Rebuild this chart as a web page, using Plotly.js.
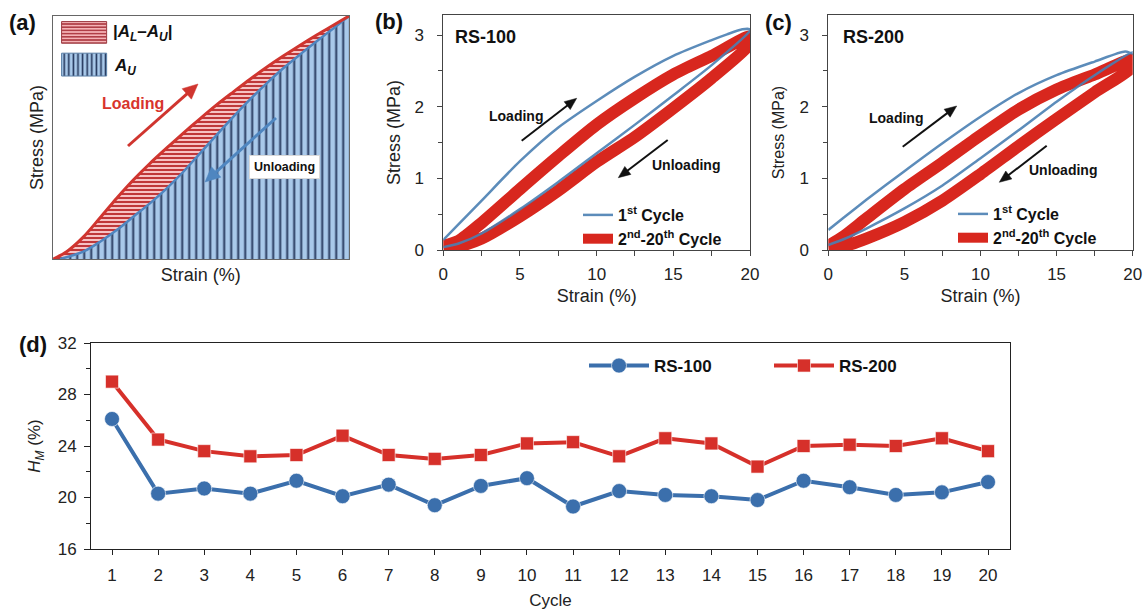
<!DOCTYPE html>
<html>
<head>
<meta charset="utf-8">
<script src="https://cdn.plot.ly/plotly-3.0.1.min.js"></script>
<style>
  html, body { margin: 0; padding: 0; background: #fff; }
  #fig { width: 1146px; height: 610px; }
</style>
</head>
<body>
<div id="fig"></div>
<script>
// ---------- (a) schematic loop (normalised strain / stress) ----------
const schemLoadStrain   = [0.002, 0.047, 0.103, 0.160, 0.216, 0.272, 0.328, 0.385, 0.441, 0.497, 0.553, 0.610, 0.666, 0.722, 0.778, 0.835, 0.891, 0.947, 1.0];
const schemLoadStress   = [0.000, 0.030, 0.090, 0.170, 0.250, 0.325, 0.393, 0.457, 0.518, 0.577, 0.634, 0.688, 0.740, 0.789, 0.835, 0.880, 0.922, 0.962, 1.0];
const schemUnloadStrain = [0.025, 0.103, 0.160, 0.216, 0.272, 0.328, 0.385, 0.441, 0.497, 0.553, 0.610, 0.666, 0.722, 0.778, 0.835, 0.891, 0.947, 1.0];
const schemUnloadStress = [0.000, 0.030, 0.071, 0.119, 0.174, 0.229, 0.291, 0.359, 0.435, 0.510, 0.586, 0.657, 0.723, 0.785, 0.842, 0.896, 0.949, 1.0];

// ---------- (b) RS-100 stress-strain loops ----------
const rs100FirstLoadStrain    = [0, 1, 2.5, 5, 7.5, 10, 12.5, 15, 17.5, 18.5, 19.5, 20];
const rs100FirstLoadStress    = [0.14, 0.36, 0.69, 1.24, 1.71, 2.08, 2.42, 2.71, 2.93, 3.01, 3.08, 3.08];
const rs100FirstUnloadStrain  = [20, 17.5, 15, 12.5, 10, 7.5, 5, 2.5, 1, 0];
const rs100FirstUnloadStress  = [3.06, 2.58, 2.16, 1.75, 1.35, 0.95, 0.57, 0.23, 0.09, 0.04];
const rs100CycLoadStrain      = [0, 1, 2.5, 5, 7.5, 10, 12.5, 15, 17.5, 20];
const rs100CycLoadStress      = [0.06, 0.13, 0.38, 0.85, 1.31, 1.75, 2.12, 2.45, 2.71, 2.98];
const rs100CycUnloadStrain    = [20, 17.5, 15, 12.5, 10, 7.5, 5, 2.5, 1, 0];
const rs100CycUnloadStress    = [2.88, 2.40, 1.98, 1.58, 1.23, 0.83, 0.47, 0.16, 0.05, 0.02];

// ---------- (c) RS-200 stress-strain loops ----------
const rs200FirstLoadStrain    = [0, 1, 2.5, 5, 7.5, 10, 12.5, 15, 17.5, 19.5, 20];
const rs200FirstLoadStress    = [0.28, 0.45, 0.70, 1.10, 1.49, 1.86, 2.19, 2.44, 2.63, 2.77, 2.74];
const rs200FirstUnloadStrain  = [20, 17.5, 15, 12.5, 10, 7.5, 5, 2.5, 1, 0];
const rs200FirstUnloadStress  = [2.76, 2.44, 2.07, 1.67, 1.28, 0.90, 0.58, 0.30, 0.15, 0.07];
const rs200CycLoadStrain      = [0, 1, 2.5, 5, 7.5, 10, 12.5, 15, 17.5, 20];
const rs200CycLoadStress      = [0.06, 0.19, 0.44, 0.85, 1.22, 1.60, 1.96, 2.24, 2.45, 2.66];
const rs200CycUnloadStrain    = [20, 17.5, 15, 12.5, 10, 7.5, 5, 2.5, 1, 0];
const rs200CycUnloadStress    = [2.56, 2.20, 1.83, 1.45, 1.06, 0.69, 0.39, 0.16, 0.05, 0.02];

// ---------- (d) hysteresis per cycle ----------
const cycles = [1, 2, 3, 4, 5, 6, 7, 8, 9, 10, 11, 12, 13, 14, 15, 16, 17, 18, 19, 20];
const rs100Hm = [26.1, 20.3, 20.7, 20.3, 21.3, 20.1, 21.0, 19.4, 20.9, 21.5, 19.3, 20.5, 20.2, 20.1, 19.8, 21.3, 20.8, 20.2, 20.4, 21.2];
const rs200Hm = [29.0, 24.5, 23.6, 23.2, 23.3, 24.8, 23.3, 23.0, 23.3, 24.2, 24.3, 23.2, 24.6, 24.2, 22.4, 24.0, 24.1, 24.0, 24.6, 23.6];

// ---------- styling ----------
const FONT = 'Liberation Sans, Arial, Helvetica, sans-serif';
const W = 1146, H = 610;
const px = v => v / W;          // figure pixel -> paper x
const py = v => 1 - v / H;      // figure pixel -> paper y

const BLUE_LINE = '#4a80b2';
const RED_BAND = '#d8271e';
const BLUE_D = '#3b6fac';
const RED_D = '#d6302a';

const traces = [];

// (a) area under unloading curve, vertical hatch
traces.push({
  x: schemUnloadStrain, y: schemUnloadStress, xaxis: 'x', yaxis: 'y',
  mode: 'lines', line: { color: '#4f86c0', width: 2.5, shape: 'spline', smoothing: 0.8 },
  fill: 'tozeroy', fillcolor: '#a9c9ea',
  fillpattern: { shape: '|', bgcolor: '#a9c9ea', fgcolor: '#27395e', size: 7, solidity: 0.28 },
  showlegend: false, hoverinfo: 'skip'
});
// (a) area between loading and unloading curves, horizontal hatch
traces.push({
  x: schemLoadStrain, y: schemLoadStress, xaxis: 'x', yaxis: 'y',
  mode: 'lines', line: { color: '#d0352f', width: 3, shape: 'spline', smoothing: 0.8 },
  fill: 'tonexty', fillcolor: '#f3b7b9',
  fillpattern: { shape: '-', bgcolor: '#f6c3c4', fgcolor: '#b9282a', size: 4, solidity: 0.45 },
  showlegend: false, hoverinfo: 'skip'
});

// (a) key boxes (axis units of the schematic panel)
const keyBoxes = [
  { x0: 0.030, x1: 0.182, y0: 0.888, y1: 0.977, shape: '-', bg: '#f4b3b6', fg: '#a8323a', size: 3.2, sol: 0.45, edge: '#9c3a40' },
  { x0: 0.030, x1: 0.182, y0: 0.753, y1: 0.847, shape: '|', bg: '#a9c9ea', fg: '#22355a', size: 4.6, sol: 0.35, edge: '#5a7fa6' }
];
keyBoxes.forEach(b => {
  traces.push({
    x: [b.x0, b.x1, b.x1, b.x0, b.x0], y: [b.y0, b.y0, b.y1, b.y1, b.y0],
    xaxis: 'x', yaxis: 'y', mode: 'lines', line: { color: b.edge, width: 1 },
    fill: 'toself', fillcolor: b.bg,
    fillpattern: { shape: b.shape, bgcolor: b.bg, fgcolor: b.fg, size: b.size, solidity: b.sol },
    showlegend: false, hoverinfo: 'skip'
  });
});

// (b) and (c) loops
function loopTraces(xa, ya, legendId, cycLS, cycLY, cycUS, cycUY, fLS, fLY, fUS, fUY) {
  traces.push({
    x: cycLS.concat(cycUS), y: cycLY.concat(cycUY), xaxis: xa, yaxis: ya,
    mode: 'lines', line: { color: RED_BAND, width: 12, shape: 'spline', smoothing: 0.7 },
    name: '2<sup>nd</sup>-20<sup>th</sup> Cycle', legend: legendId, legendrank: 2, hoverinfo: 'skip'
  });
  traces.push({
    x: fLS.concat(fUS), y: fLY.concat(fUY), xaxis: xa, yaxis: ya,
    mode: 'lines', line: { color: BLUE_LINE, width: 2.5, shape: 'spline', smoothing: 0.7 },
    opacity: 0.9,
    name: '1<sup>st</sup> Cycle', legend: legendId, legendrank: 1, hoverinfo: 'skip'
  });
}
loopTraces('x2', 'y2', 'legend2',
  rs100CycLoadStrain, rs100CycLoadStress, rs100CycUnloadStrain, rs100CycUnloadStress,
  rs100FirstLoadStrain, rs100FirstLoadStress, rs100FirstUnloadStrain, rs100FirstUnloadStress);
loopTraces('x3', 'y3', 'legend3',
  rs200CycLoadStrain, rs200CycLoadStress, rs200CycUnloadStrain, rs200CycUnloadStress,
  rs200FirstLoadStrain, rs200FirstLoadStress, rs200FirstUnloadStrain, rs200FirstUnloadStress);

// (d) H_M per cycle
traces.push({
  x: cycles, y: rs100Hm, xaxis: 'x4', yaxis: 'y4', name: 'RS-100', legend: 'legend4',
  mode: 'lines+markers', line: { color: BLUE_D, width: 4 },
  marker: { symbol: 'circle', size: 15, color: BLUE_D, line: { color: 'rgba(255,255,255,0.6)', width: 1 } },
  hoverinfo: 'skip'
});
traces.push({
  x: cycles, y: rs200Hm, xaxis: 'x4', yaxis: 'y4', name: 'RS-200', legend: 'legend4',
  mode: 'lines+markers', line: { color: RED_D, width: 4 },
  marker: { symbol: 'square', size: 13, color: RED_D, line: { color: 'rgba(255,255,255,0.6)', width: 1 } },
  hoverinfo: 'skip'
});

// ---------- axes ----------
const baseAxis = {
  showgrid: false, zeroline: false, showline: true, mirror: true,
  linecolor: '#444', linewidth: 1, fixedrange: true,
  tickfont: { family: FONT, size: 17, color: '#222' },
  tickcolor: '#444'
};

const layout = {
  width: W, height: H,
  margin: { l: 0, r: 0, t: 0, b: 0 },
  paper_bgcolor: '#fff', plot_bgcolor: '#fff',
  font: { family: FONT, color: '#222' },
  showlegend: true,

  xaxis: Object.assign({}, baseAxis, {
    domain: [px(52.7), px(349)], range: [0, 1], anchor: 'y',
    showticklabels: false, ticks: '', linecolor: '#666',
    title: { text: 'Strain (%)', font: { size: 18, family: FONT, color: '#222' }, standoff: 9 }
  }),
  yaxis: Object.assign({}, baseAxis, {
    domain: [py(259), py(16)], range: [0, 1], anchor: 'x',
    showticklabels: false, ticks: '', linecolor: '#666',
    title: { text: 'Stress (MPa)', font: { size: 18, family: FONT, color: '#222' }, standoff: 3 }
  }),

  xaxis2: Object.assign({}, baseAxis, {
    domain: [px(443.3), px(750)], range: [0, 20], anchor: 'y2',
    dtick: 5, ticks: 'outside', ticklen: 5, ticklabelstandoff: 4,
    minor: { dtick: 2.5, ticks: 'outside', ticklen: 5, tickcolor: '#444' },
    title: { text: 'Strain (%)', font: { size: 18, family: FONT, color: '#222' }, standoff: 5 }
  }),
  yaxis2: Object.assign({}, baseAxis, {
    domain: [py(250), py(15)], range: [0, 3.28], anchor: 'x2',
    dtick: 1, ticks: 'outside', ticklen: 5, ticklabelstandoff: 10,
    minor: { dtick: 0.5, ticks: 'outside', ticklen: 4, tickcolor: '#444' },
    title: { text: 'Stress (MPa)', font: { size: 18, family: FONT, color: '#222' }, standoff: 9 }
  }),

  xaxis3: Object.assign({}, baseAxis, {
    domain: [px(828.3), px(1132.7)], range: [0, 20], anchor: 'y3',
    dtick: 5, ticks: 'outside', ticklen: 5, ticklabelstandoff: 4,
    minor: { dtick: 2.5, ticks: 'outside', ticklen: 5, tickcolor: '#444' },
    title: { text: 'Strain (%)', font: { size: 18, family: FONT, color: '#222' }, standoff: 5 }
  }),
  yaxis3: Object.assign({}, baseAxis, {
    domain: [py(250), py(15)], range: [0, 3.28], anchor: 'x3',
    dtick: 1, ticks: 'outside', ticklen: 5, ticklabelstandoff: 10,
    minor: { dtick: 0.5, ticks: 'outside', ticklen: 4, tickcolor: '#444' },
    title: { text: 'Stress (MPa)', font: { size: 16, family: FONT, color: '#222' }, standoff: 10 }
  }),

  xaxis4: Object.assign({}, baseAxis, {
    domain: [px(91), px(1010)], range: [0.544, 20.477], anchor: 'y4',
    tick0: 1, dtick: 1, ticks: 'outside', ticklen: 5, ticklabelstandoff: 6,
    linecolor: '#222', tickcolor: '#222',
    title: { text: 'Cycle', font: { size: 17, family: FONT, color: '#222' }, standoff: 10 }
  }),
  yaxis4: Object.assign({}, baseAxis, {
    domain: [py(549), py(343)], range: [16, 32], anchor: 'x4',
    dtick: 4, ticks: 'outside', ticklen: 6, ticklabelstandoff: 4,
    linecolor: '#222', tickcolor: '#222',
    minor: { dtick: 2, ticks: 'outside', ticklen: 4, tickcolor: '#222' },
    title: { text: '<i>H</i><sub><i>M</i></sub> (%)', font: { size: 17, family: FONT, color: '#222' }, standoff: 12 }
  }),

  legend2: {
    x: px(578), y: py(198), xanchor: 'left', yanchor: 'top',
    bgcolor: 'rgba(0,0,0,0)', borderwidth: 0, traceorder: 'normal',
    font: { family: FONT, size: 16, weight: 'bold', color: '#111' }, itemclick: false, itemdoubleclick: false
  },
  legend3: {
    x: px(953), y: py(197), xanchor: 'left', yanchor: 'top',
    bgcolor: 'rgba(0,0,0,0)', borderwidth: 0, traceorder: 'normal',
    font: { family: FONT, size: 16, weight: 'bold', color: '#111' }, itemclick: false, itemdoubleclick: false
  },
  legend4: {
    orientation: 'h', x: px(584), y: py(366), xanchor: 'left', yanchor: 'middle',
    entrywidth: 110, entrywidthmode: 'pixels', itemwidth: 60,
    bgcolor: 'rgba(0,0,0,0)', borderwidth: 0,
    font: { family: FONT, size: 17, weight: 'bold', color: '#111' }, itemclick: false, itemdoubleclick: false
  },

  annotations: [],
  shapes: []
};

// ---------- text and arrows ----------
const ann = layout.annotations;
function label(text, x, y, opts) {
  ann.push(Object.assign({
    text: text, x: px(x), y: py(y), xref: 'paper', yref: 'paper',
    showarrow: false, xanchor: 'center', yanchor: 'middle',
    font: { family: FONT, size: 14, color: '#111', weight: 'bold' }
  }, opts || {}));
}
// straight arrow as a shaft line plus a filled triangular head (figure pixels in)
function arrow(headX, headY, tailX, tailY, color, width, headLen, headHalf) {
  const dx = headX - tailX, dy = headY - tailY;
  const len = Math.hypot(dx, dy);
  const ux = dx / len, uy = dy / len;
  const bx = headX - ux * headLen, by = headY - uy * headLen;
  const nx = -uy * headHalf, ny = ux * headHalf;
  layout.shapes.push({
    type: 'line', xref: 'paper', yref: 'paper',
    x0: px(tailX), y0: py(tailY), x1: px(bx + ux), y1: py(by + uy),
    line: { color: color, width: width }
  });
  layout.shapes.push({
    type: 'path', xref: 'paper', yref: 'paper',
    path: 'M' + px(headX) + ',' + py(headY) +
          ' L' + px(bx + nx) + ',' + py(by + ny) +
          ' L' + px(bx - nx) + ',' + py(by - ny) + ' Z',
    fillcolor: color, line: { color: color, width: 0.5 }
  });
}

// panel letters
label('(a)', 22, 23, { font: { family: FONT, size: 22, weight: 'bold', color: '#111' } });
label('(b)', 389, 22, { font: { family: FONT, size: 22, weight: 'bold', color: '#111' } });
label('(c)', 778, 23, { font: { family: FONT, size: 22, weight: 'bold', color: '#111' } });
label('(d)', 33, 344, { font: { family: FONT, size: 22, weight: 'bold', color: '#111' } });

// (a)
label('<b>|<i>A<sub>L</sub></i>–<i>A<sub>U</sub></i>|</b>', 111, 33, { xanchor: 'left', font: { family: FONT, size: 17, color: '#111' } });
label('<b><i>A<sub>U</sub></i></b>', 112, 67, { xanchor: 'left', font: { family: FONT, size: 17, color: '#111' } });
label('Loading', 133, 103, { font: { family: FONT, size: 16, weight: 'bold', color: '#d8342c' } });
arrow(198, 84, 128, 146, '#d0352f', 3, 15, 7);
arrow(205, 182, 276, 118, '#4f86c0', 3, 15, 7);
label('Unloading', 284, 167, {
  font: { family: FONT, size: 12.5, weight: 'bold', color: '#111' },
  bgcolor: '#ffffff', bordercolor: '#d8d8d8', borderwidth: 1, borderpad: 4
});

// (b)
label('RS-100', 453, 37, { xanchor: 'left', font: { family: FONT, size: 18, weight: 'bold', color: '#111' } });
label('Loading', 516, 116);
arrow(576.7, 98.3, 521.7, 140.7, '#111', 2, 12, 5);
label('Unloading', 686, 165);
arrow(618.3, 177.7, 667.7, 140, '#111', 2, 12, 5);

// (c)
label('RS-200', 841, 37, { xanchor: 'left', font: { family: FONT, size: 18, weight: 'bold', color: '#111' } });
label('Loading', 896, 118);
arrow(956.7, 106, 902.7, 146.7, '#111', 2, 12, 5);
label('Unloading', 1063, 170);
arrow(999.3, 182.3, 1046.7, 145.7, '#111', 2, 12, 5);

Plotly.newPlot('fig', traces, layout, { displayModeBar: false, staticPlot: true });
</script>
</body>
</html>
